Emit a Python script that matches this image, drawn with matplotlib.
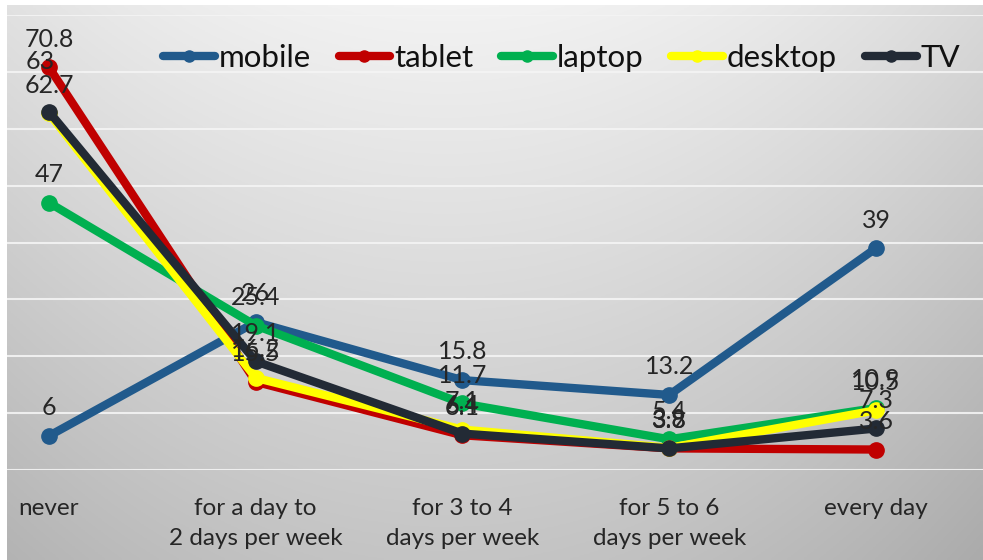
import numpy as np
import matplotlib
matplotlib.use("Agg")
import matplotlib.pyplot as plt

categories = ["never", "for a day to\n2 days per week", "for 3 to 4\ndays per week",
              "for 5 to 6\ndays per week", "every day"]
mobile = [6, 26, 15.8, 13.2, 39]
tablet = [70.8, 15.5, 6.1, 3.8, 3.6]
laptop = [47, 25.4, 11.7, 5.4, 10.9]
desktop = [62.7, 16.2, 7.1, 3.9, 10.5]
tv = [63, 19.1, 6.4, 3.8, 7.3]

series = [("mobile", mobile, "#215A8C"), ("tablet", tablet, "#C00000"),
          ("laptop", laptop, "#00B050"), ("desktop", desktop, "#FFFF00"),
          ("TV", tv, "#222A35")]

plt.rcParams['font.family'] = ['Lato', 'DejaVu Sans']

W, H = 983, 560
fig = plt.figure(figsize=(W / 100, H / 100), dpi=100)
fig.patch.set_facecolor("white")

# background gradient
bg = fig.add_axes([7 / W, 0, 1 - 7 / W, 1 - 5 / H], zorder=0)
ny, nx = 200, 300
yy, xx = np.mgrid[0:1:ny * 1j, 0:1:nx * 1j]
val = 0.95 - 0.18 * yy - 0.10 * (np.abs(xx - 0.45) / 0.55) ** 2
img = np.dstack([val, val, val])
bg.imshow(img, aspect="auto", extent=[0, 1, 0, 1], origin="upper")
bg.axis("off")

x0_px, x4_px = 49, 876
ppu = (x4_px - x0_px) / 4
ax_left_px, ax_right_px = 7, W
xmin = (ax_left_px - x0_px) / ppu
xmax = (ax_right_px - x0_px) / ppu
top_px, bot_px = 15, 470
ax = fig.add_axes([ax_left_px / W, 1 - bot_px / H, (ax_right_px - ax_left_px) / W,
                   (bot_px - top_px) / H], zorder=1)
ax.patch.set_alpha(0)
ax.set_xlim(xmin, xmax)
ax.set_ylim(0, 80)
ax.set_yticks(np.arange(0, 81, 10))
ax.yaxis.grid(True, color="#f4f4f4", linewidth=1.5, alpha=0.9)
ax.set_axisbelow(True)
ax.tick_params(left=False, labelleft=False, bottom=False, length=0)
for s in ax.spines.values():
    s.set_visible(False)

x = np.arange(len(categories))
ax.set_xticks(x)
ax.set_xticklabels(categories, fontsize=17.5, color="#262626", linespacing=1.55)
ax.tick_params(axis="x", pad=20)

# small manual nudges of overlapping labels (points)
nudge = {("TV", 0): (-6, 16)}

handles = []
for name, vals, col in series:
    h, = ax.plot(x, vals, color=col, linewidth=6, marker="o", markersize=11,
                 markerfacecolor=col, markeredgecolor=col, solid_capstyle="round",
                 label=name, clip_on=False)
    handles.append(h)
    for i, (xi, v) in enumerate(zip(x, vals)):
        dx, dy = nudge.get((name, i), (0, 0))
        ax.annotate(f"{v:g}", (xi, v), xytext=(dx, 12 + dy), textcoords="offset points",
                    ha="center", va="bottom", fontsize=18, color="#262626")

leg = fig.legend(handles=handles, loc="center left", bbox_to_anchor=(163 / W, 1 - 58 / H),
                 ncol=5, frameon=False, fontsize=22.5, handlelength=1.65,
                 handletextpad=0.12, columnspacing=0.9, borderaxespad=0, borderpad=0)
for t in leg.get_texts():
    t.set_color("#111111")
for lh in leg.legend_handles:
    lh.set_markersize(8)

fig.savefig("out.png", dpi=100)
